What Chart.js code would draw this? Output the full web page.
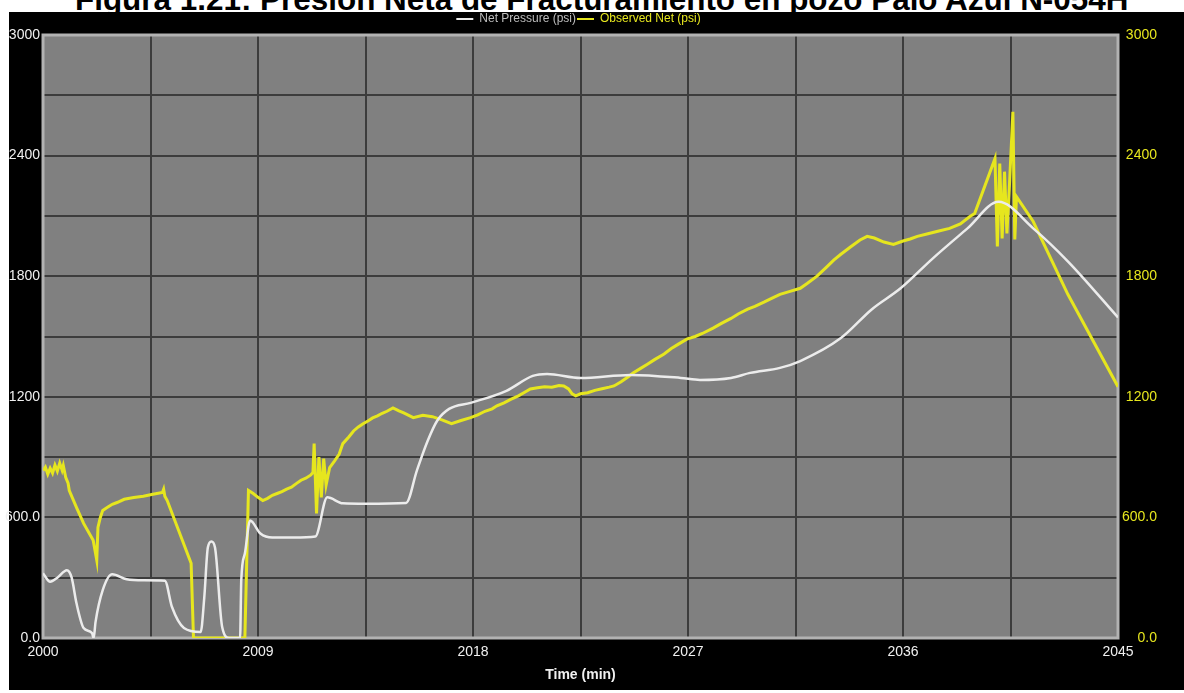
<!DOCTYPE html>
<html>
<head>
<meta charset="utf-8">
<script src="https://cdn.jsdelivr.net/npm/chart.js@4.4.1/dist/chart.umd.min.js"></script>
<style>
  html, body { margin: 0; padding: 0; background: #fff; }
  body { width: 1184px; height: 693px; position: relative; overflow: hidden; }
  #title {
    position: absolute; left: 75px; top: -11px; white-space: nowrap;
    font-family: 'Liberation Sans', Arial, sans-serif; font-weight: bold;
    font-size: 26px; line-height: 26px; color: #000;
  }
  #chart { position: absolute; left: 0; top: 12px; }
</style>
</head>
<body>
<div id="title">Figura 1.21: Presión Neta de Fracturamiento en pozo Palo Azul N-054H</div>
<canvas id="chart" width="1184" height="678"></canvas>
<script>
// Presion neta (linea blanca)
const netTime = [2000, 2000.3, 2000.6, 2001, 2001.2, 2001.4, 2001.7, 2002.05, 2002.12, 2002.2, 2002.5, 2002.9,
  2003.5, 2004.2, 2005.1, 2005.4, 2005.9, 2006.6, 2006.75, 2006.9, 2007.05, 2007.2, 2007.5, 2007.8,
  2008.25, 2008.3, 2008.45, 2008.67, 2009.1, 2009.6, 2010.5, 2011.4, 2011.9, 2012.55, 2013.5, 2015.2,
  2015.65, 2016.1, 2016.5, 2017, 2017.9, 2019.4, 2020.5, 2021.1, 2022.5, 2024.6, 2026.7, 2027.5,
  2028.8, 2029.6, 2030.85, 2031.7, 2033.4, 2034.7, 2035.9, 2037.25, 2038.7, 2040, 2041.45, 2042.9, 2045];
const netPsi = [322, 280, 300, 337, 300, 174, 50, 25, 0, 80, 238, 317,
  292, 287, 285, 154, 50, 30, 200, 450, 480, 450, 55, 0,
  0, 288, 420, 585, 520, 500, 500, 505, 700, 670, 668, 672,
  833, 980, 1081, 1140, 1170, 1230, 1304, 1314, 1294, 1309, 1294, 1284,
  1294, 1319, 1344, 1378, 1492, 1636, 1740, 1889, 2038, 2170, 2038, 1874, 1595];

// Presion neta observada (linea amarilla)
const obsTime = [2000, 2000.1, 2000.2, 2000.3, 2000.4, 2000.5, 2000.6, 2000.7, 2000.8, 2000.85, 2000.95, 2001.05,
  2001.1, 2001.4, 2001.7, 2002.1, 2002.2, 2002.25, 2002.3, 2002.4, 2002.5, 2002.7, 2002.9, 2003.1,
  2003.4, 2003.8, 2004.2, 2004.6, 2005, 2005.05, 2005.1, 2005.2, 2006.2, 2006.3, 2008.45, 2008.6,
  2008.8, 2009, 2009.2, 2009.4, 2009.6, 2009.8, 2010, 2010.2, 2010.4, 2010.6, 2010.8, 2011,
  2011.2, 2011.3, 2011.35, 2011.45, 2011.55, 2011.65, 2011.75, 2011.85, 2012, 2012.2, 2012.4, 2012.55,
  2012.8, 2013, 2013.2, 2013.4, 2013.6, 2013.8, 2014, 2014.2, 2014.4, 2014.65, 2014.9, 2015.1,
  2015.5, 2015.9, 2016.3, 2016.7, 2017.1, 2017.5, 2017.9, 2018.2, 2018.5, 2018.8, 2019, 2019.3,
  2019.6, 2019.9, 2020.2, 2020.4, 2020.7, 2021, 2021.3, 2021.6, 2021.8, 2022, 2022.15, 2022.3,
  2022.5, 2022.8, 2023.1, 2023.4, 2023.7, 2023.9, 2024.2, 2024.5, 2024.7, 2025, 2025.3, 2025.6,
  2026, 2026.3, 2026.6, 2026.95, 2027.3, 2027.6, 2028.05, 2028.4, 2028.8, 2029.1, 2029.5, 2029.8,
  2030.2, 2030.5, 2030.85, 2031.2, 2031.7, 2032, 2032.4, 2032.8, 2033.1, 2033.4, 2033.8, 2034.2,
  2034.5, 2034.8, 2035.2, 2035.6, 2036, 2036.3, 2036.6, 2037, 2037.5, 2037.95, 2038.4, 2038.8,
  2039, 2039.85, 2039.95, 2040.05, 2040.15, 2040.25, 2040.35, 2040.45, 2040.6, 2040.68, 2040.75, 2041.45,
  2042.9, 2045];
const obsPsi = [833, 850, 815, 845, 820, 860, 830, 870, 835, 858, 800, 770,
  734, 650, 570, 486, 420, 387, 550, 600, 635, 650, 665, 674,
  690, 699, 705, 715, 724, 740, 705, 684, 372, 0, 0, 734,
  719, 700, 684, 695, 710, 719, 728, 741, 750, 768, 785, 795,
  810, 823, 967, 620, 900, 700, 892, 760, 848, 880, 915, 967,
  1000, 1030, 1050, 1066, 1080, 1095, 1105, 1118, 1128, 1145, 1130, 1120,
  1096, 1108, 1101, 1085, 1066, 1082, 1096, 1110, 1128, 1140, 1155, 1170,
  1188, 1205, 1225, 1239, 1245, 1250, 1248, 1256, 1254, 1239, 1215, 1205,
  1215, 1220, 1232, 1240, 1248, 1254, 1275, 1300, 1319, 1340, 1362, 1385,
  1413, 1440, 1462, 1487, 1500, 1515, 1542, 1565, 1590, 1612, 1636, 1650,
  1672, 1690, 1710, 1722, 1740, 1765, 1800, 1845, 1880, 1909, 1945, 1980,
  1998, 1990, 1970, 1958, 1975, 1985, 1998, 2010, 2025, 2038, 2060, 2097,
  2112, 2385, 1948, 2360, 1988, 2320, 2013, 2236, 2618, 1983, 2196, 2072,
  1710, 1250];

const timeMin = 2000, timeMax = 2045, timeStep = 4.5;
const psiMin = 0, psiMax = 3000, psiStep = 300;

// ajustar el titulo al ancho de la figura
const titleEl = document.getElementById('title');
const mctx = document.createElement('canvas').getContext('2d');
mctx.font = "bold 26px 'Liberation Sans'";
const tw = mctx.measureText(titleEl.textContent).width;
const fs = 26 * 1055 / tw;
titleEl.style.fontSize = fs + 'px';
titleEl.style.lineHeight = fs + 'px';
titleEl.style.top = (11 - 0.8465 * fs) + 'px';

const WHITE = '#ececec';
const YELLOW = '#e6e61e';
const tickFont = { family: "'Liberation Sans', Arial, sans-serif", size: 14 };

const frame = {
  id: 'frame',
  beforeDraw(chart) {
    const { ctx, chartArea: a, width, height } = chart;
    ctx.save();
    ctx.fillStyle = '#000';
    ctx.fillRect(9, 0, width - 9, height);
    ctx.fillStyle = '#808080';
    ctx.fillRect(a.left, a.top, a.right - a.left, a.bottom - a.top);
    ctx.restore();
  },
  beforeDatasetsDraw(chart) {
    const { ctx, chartArea: a } = chart;
    ctx.save();
    ctx.strokeStyle = '#b2b2b2';
    ctx.lineWidth = 3;
    ctx.strokeRect(a.left, a.top, a.right - a.left, a.bottom - a.top);
    ctx.restore();
  }
};

const psiLabel = v => v % 600 === 0 ? (v < 1000 ? v.toFixed(1) : String(v)) : '';

new Chart(document.getElementById('chart'), {
  type: 'line',
  data: {
    datasets: [{
      label: 'Net Pressure (psi)',
      data: netTime.map((t, i) => ({ x: t, y: netPsi[i] })),
      borderColor: WHITE,
      backgroundColor: WHITE,
      borderWidth: 2.5,
      pointRadius: 0,
      cubicInterpolationMode: 'monotone',
      yAxisID: 'y'
    }, {
      label: 'Observed Net (psi)',
      data: obsTime.map((t, i) => ({ x: t, y: obsPsi[i] })),
      borderColor: YELLOW,
      backgroundColor: YELLOW,
      borderWidth: 3,
      pointRadius: 0,
      tension: 0,
      yAxisID: 'y1'
    }]
  },
  options: {
    responsive: false,
    animation: false,
    devicePixelRatio: 1,
    layout: { padding: { left: 0, top: 0, bottom: 0, right: 27 } },
    plugins: {
      tooltip: { enabled: false },
      legend: {
        position: 'top',
        labels: {
          font: { family: "'Liberation Sans', sans-serif", size: 12 },
          boxWidth: 17,
          boxHeight: 2,
          padding: 1,
          generateLabels(chart) {
            const items = Chart.defaults.plugins.legend.labels.generateLabels(chart);
            items.forEach(it => { it.fontColor = it.datasetIndex === 0 ? '#bdbdbd' : YELLOW; it.lineWidth = 0; });
            return items;
          }
        }
      }
    },
    scales: {
      x: {
        type: 'linear',
        min: timeMin, max: timeMax,
        afterFit(s) { s.height = 52; },
        ticks: {
          stepSize: timeStep, autoSkip: false, maxRotation: 0, padding: 6,
          color: '#f0f0f0', font: tickFont,
          callback: v => ((v - timeMin) % 9 === 0 ? String(v) : '')
        },
        grid: { color: '#3c3c3c', lineWidth: 2, drawTicks: false },
        border: { display: false },
        title: {
          display: true, text: 'Time (min)', color: '#f0f0f0',
          font: { family: "'Liberation Sans', sans-serif", size: 14, weight: 'bold' },
          padding: { top: 0, bottom: 6 }
        }
      },
      y: {
        position: 'left',
        min: psiMin, max: psiMax,
        afterFit(s) { s.width = 43; },
        ticks: { stepSize: psiStep, padding: 3, color: '#f0f0f0', font: tickFont, callback: psiLabel },
        grid: { color: '#3c3c3c', lineWidth: 2, drawTicks: false },
        border: { display: false }
      },
      y1: {
        position: 'right',
        min: psiMin, max: psiMax,
        afterFit(s) { s.width = 39; },
        ticks: { stepSize: psiStep, padding: 4, crossAlign: 'far', color: YELLOW, font: tickFont, callback: psiLabel },
        grid: { display: false, drawTicks: false },
        border: { display: false }
      }
    }
  },
  plugins: [frame]
});
</script>
</body>
</html>
